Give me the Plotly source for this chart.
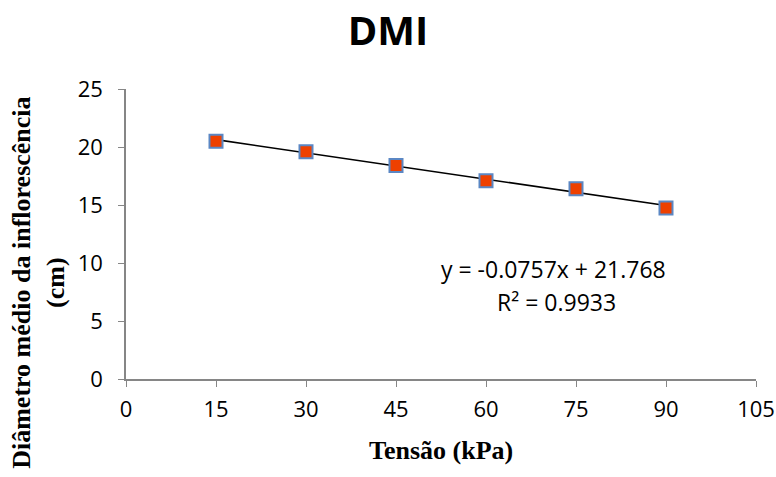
import plotly.graph_objects as go
import numpy as np

# Data
tensao = [15, 30, 45, 60, 75, 90]
diametro = [20.5, 19.6, 18.4, 17.1, 16.4, 14.75]
x_ticks = [0, 15, 30, 45, 60, 75, 90, 105]
y_ticks = [0, 5, 10, 15, 20, 25]
slope = -0.0757
intercept = 21.768
eq_text = "y = -0.0757x + 21.768"
r2_text = "R² = 0.9933"

fig = go.Figure()

tx = np.array([min(tensao), max(tensao)])
fig.add_trace(go.Scatter(x=tx, y=slope * tx + intercept, mode="lines",
                         line=dict(color="black", width=1.6), showlegend=False,
                         hoverinfo="skip"))
fig.add_trace(go.Scatter(x=tensao, y=diametro, mode="markers",
                         marker=dict(symbol="square", size=13, color="#EE4000",
                                     line=dict(color="#5B87C4", width=2)),
                         showlegend=False))

sans = "Open Sans, Liberation Sans, sans-serif"
serif = "Liberation Serif, Times New Roman, serif"
axis_font = dict(family=sans, size=22, color="black")
note_font = dict(family=sans, size=23, color="black")

fig.update_layout(
    width=776, height=477,
    margin=dict(l=126, r=20, t=89, b=98, autoexpand=False),
    plot_bgcolor="white", paper_bgcolor="white",
    title=dict(text="<b>DMI</b>", x=0.5, xanchor="center", y=0.935, yanchor="middle",
               font=dict(family=sans, size=40, color="black")),
    xaxis=dict(range=[0, 105], tickvals=x_ticks, showgrid=False, zeroline=False,
               showline=True, linecolor="#868686", linewidth=1.5, automargin=False,
               ticks="outside", ticklen=6, tickcolor="#868686",
               ticklabelstandoff=4, tickfont=axis_font),
    yaxis=dict(range=[0, 25], tickvals=y_ticks, showgrid=False, zeroline=False,
               showline=True, linecolor="#868686", linewidth=1.5, automargin=False,
               ticks="outside", ticklen=6, tickcolor="#868686",
               ticklabelstandoff=11, tickfont=axis_font),
    annotations=[
        dict(text="<b>Diâmetro médio da inflorescência<br>(cm)</b>", textangle=-90,
             xref="paper", yref="paper", x=-0.14, y=0.331, xanchor="center", yanchor="middle",
             showarrow=False, align="center",
             font=dict(family=serif, size=26, color="black")),
        dict(text="<b>Tensão (kPa)</b>", xref="paper", yref="paper", x=0.5, y=-0.245,
             xanchor="center", yanchor="middle", showarrow=False,
             font=dict(family=serif, size=26, color="black")),
        dict(text=eq_text, xref="x", yref="y", x=71.3, y=9.5, showarrow=False,
             font=note_font),
        dict(text=r2_text, xref="x", yref="y", x=71.8, y=6.65, showarrow=False,
             font=note_font),
    ],
)

fig.write_html("out.html")
